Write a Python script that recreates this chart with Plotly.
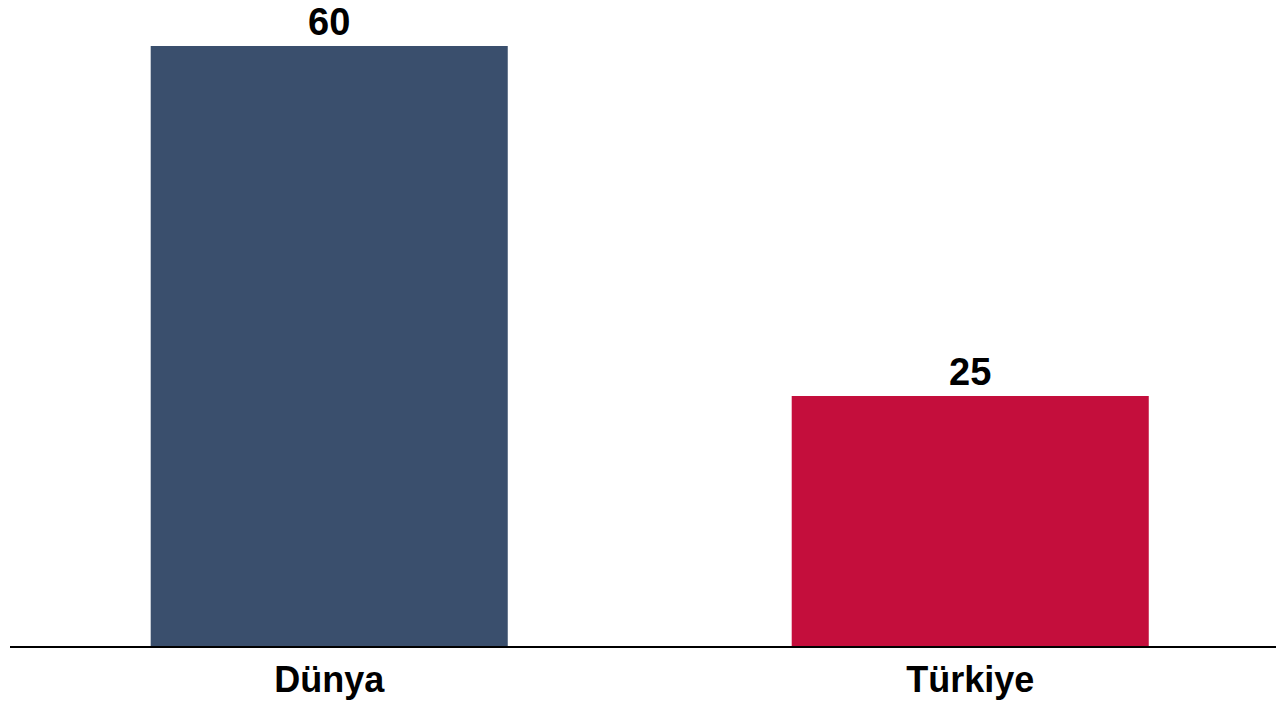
import plotly.graph_objects as go

categories = ["Dünya", "Türkiye"]
values = [60, 25]
colors = ["#3A4F6D", "#C40E3C"]

fig = go.Figure(go.Bar(
    x=categories, y=values,
    marker=dict(color=colors, line=dict(width=0)),
    width=0.557,
    text=[str(v) for v in values],
    textposition="outside",
    textfont=dict(family="Liberation Sans, Arial", size=38, color="black", weight="bold"),
    cliponaxis=False,
))
fig.update_layout(
    width=1276, height=704,
    margin=dict(l=10, r=0, t=20, b=58),
    plot_bgcolor="white", paper_bgcolor="white",
    showlegend=False,
    xaxis=dict(range=[-0.498, 1.477], showline=True, linecolor="black", linewidth=1.5,
               ticks="", showgrid=False, ticklabelstandoff=1,
               tickfont=dict(family="Liberation Sans, Arial", size=36, color="black", weight="bold")),
    yaxis=dict(range=[0, 62.6], visible=False, showgrid=False, zeroline=False),
)
fig.write_html("out.html", config={"displayModeBar": False},
               post_script="document.body.style.margin='0';document.body.style.overflow='hidden';")
